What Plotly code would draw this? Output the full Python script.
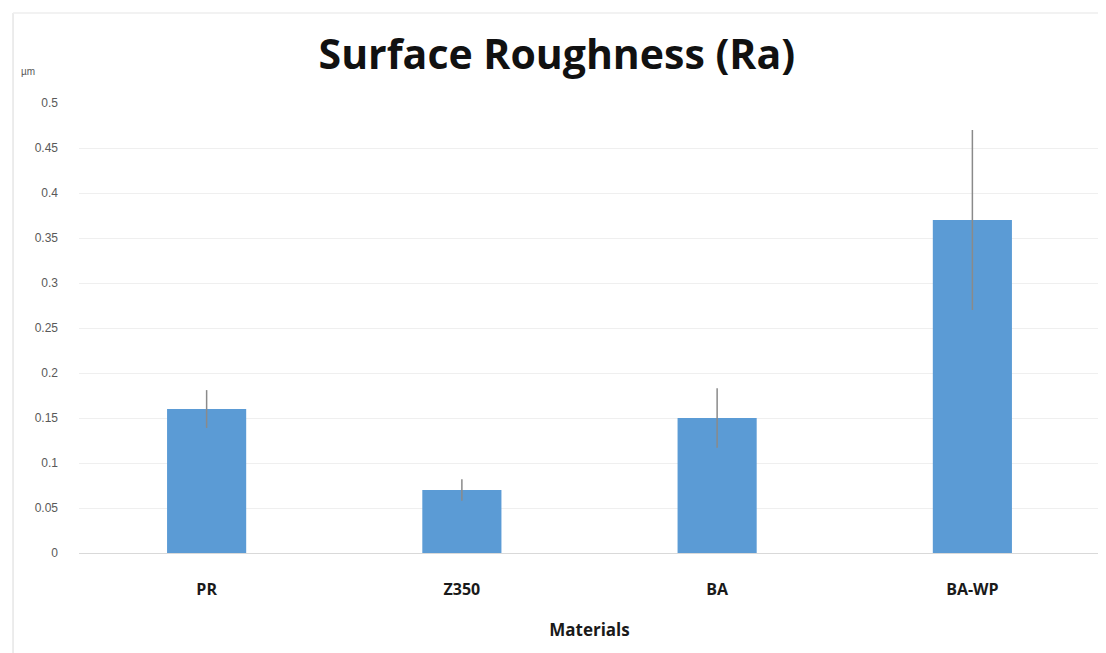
import plotly.graph_objects as go

materials = ["PR", "Z350", "BA", "BA-WP"]
ra_mean = [0.16, 0.07, 0.15, 0.37]
ra_err = [0.021, 0.012, 0.033, 0.10]

fig = go.Figure()
fig.add_trace(go.Bar(
    x=materials, y=ra_mean,
    marker=dict(color="#5B9BD5", line=dict(width=0)),
    error_y=dict(type="data", array=ra_err, visible=True,
                 color="#8a8a8a", thickness=1.5, width=0),
))

fig.update_layout(
    width=1098, height=645,
    paper_bgcolor="white", plot_bgcolor="white",
    margin=dict(l=71, r=6, t=95, b=100),
    bargap=0.69,
    showlegend=False,
    title=dict(text="<b>Surface Roughness (Ra)</b>", xref="paper", x=0.468, xanchor="center",
               y=0.927, yanchor="middle",
               font=dict(family="Open Sans", size=41, color="#111111")),
    font=dict(family="Open Sans"),
)
fig.update_yaxes(
    range=[0, 0.5], dtick=0.05, tick0=0,
    showgrid=True, gridcolor="#efefef", gridwidth=1,
    zeroline=False, showline=False,
    tickfont=dict(family="Liberation Sans", size=12, color="#595959"),
    ticklabelstandoff=20,
)
fig.update_xaxes(
    showgrid=False, showline=True, linecolor="#d9d9d9", linewidth=1,
    tickfont=dict(family="Open Sans", size=16, color="#1a1a1a", weight="bold"),
    ticklabelstandoff=22,
    title=dict(text="<b>Materials</b>", standoff=24,
               font=dict(family="Open Sans", size=17, color="#1a1a1a")),
)
fig.add_annotation(text="µm", xref="paper", yref="paper", x=-0.05, y=1.069,
                   xanchor="center", yanchor="middle", showarrow=False,
                   font=dict(family="Liberation Sans", size=10, color="#595959"))
# faint chart frame (left and top)
fig.add_shape(type="line", xref="paper", yref="paper", x0=-0.0646, x1=-0.0646,
              y0=-0.23, y1=1.2, line=dict(color="#e6e6e6", width=1.5))
fig.add_shape(type="line", xref="paper", yref="paper", x0=-0.0646, x1=1.006,
              y0=1.2, y1=1.2, line=dict(color="#eeeeee", width=1.5))

fig.write_html("out.html")
